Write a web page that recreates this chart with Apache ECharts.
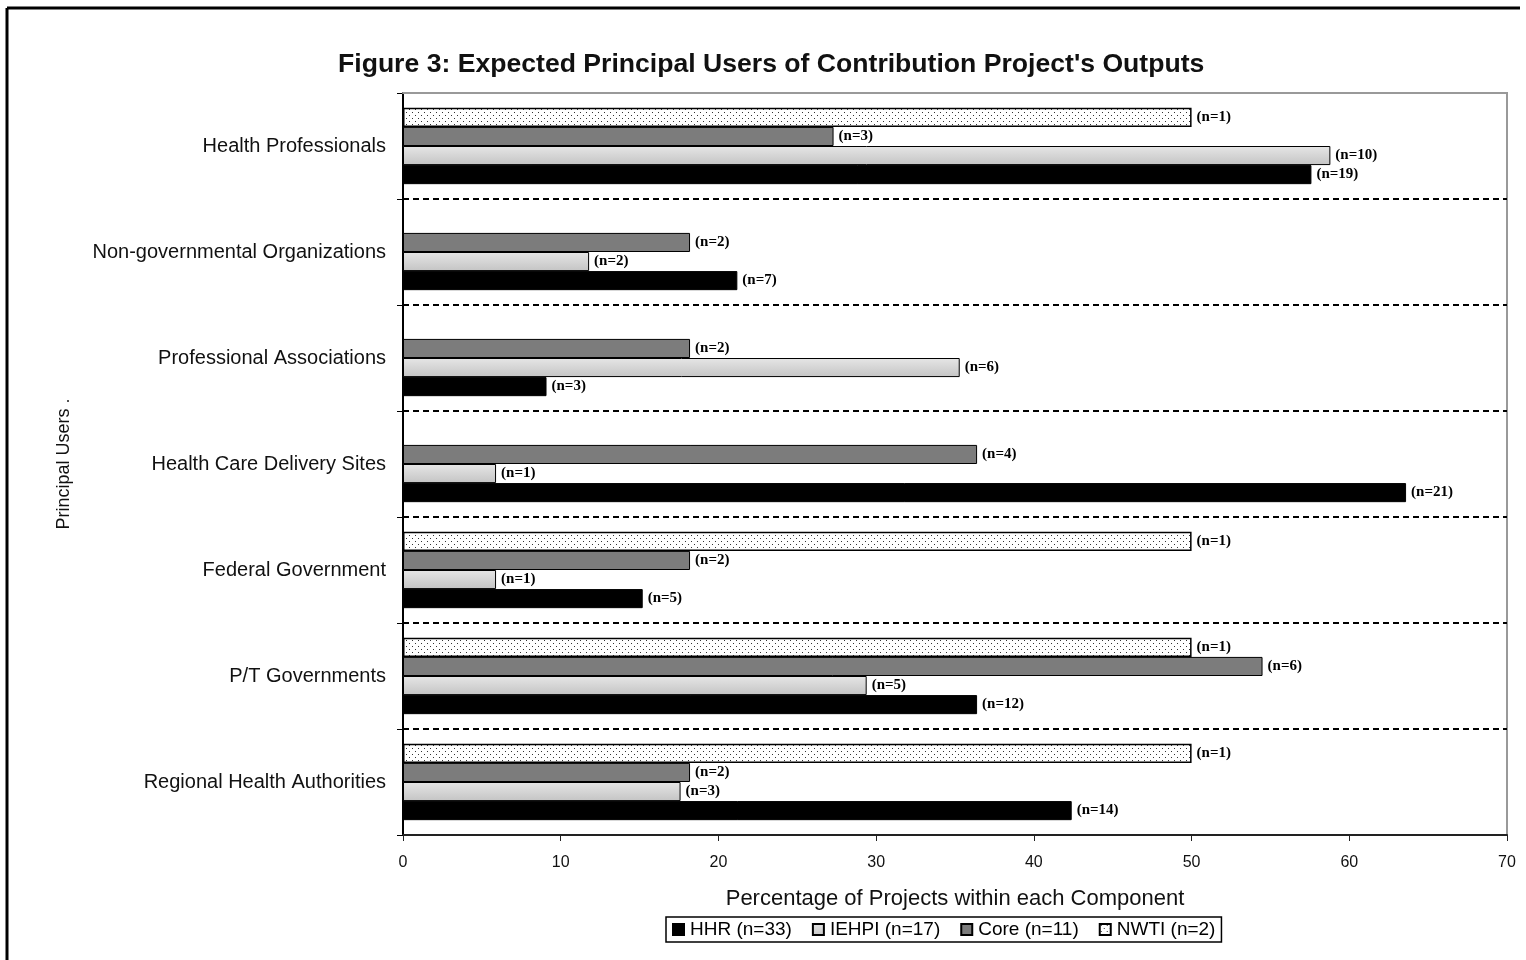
<!DOCTYPE html>
<html>
<head>
<meta charset="utf-8">
<script src="https://cdn.jsdelivr.net/npm/echarts@6/dist/echarts.min.js"></script>
<style>
  html, body { margin: 0; padding: 0; background: #fff; }
  #chart { width: 1526px; height: 960px; }
</style>
</head>
<body>
<div id="chart"></div>
<script>
// categories, top to bottom
const categories = [
  'Health Professionals',
  'Non-governmental Organizations',
  'Professional Associations',
  'Health Care Delivery Sites',
  'Federal Government',
  'P/T Governments',
  'Regional Health Authorities'
];

// percentage of projects per component
const hhrValues   = [57.6, 21.2, 9.1, 63.6, 15.2, 36.4, 42.4];
const iehpiValues = [58.8, 11.8, 35.3, 5.9, 5.9, 29.4, 17.6];
const coreValues  = [27.3, 18.2, 18.2, 36.4, 18.2, 54.5, 18.2];
const nwtiValues  = [50, null, null, null, 50, 50, 50];

// project counts shown next to each bar
const hhrCounts   = [19, 7, 3, 21, 5, 12, 14];
const iehpiCounts = [10, 2, 6, 1, 1, 5, 3];
const coreCounts  = [3, 2, 2, 4, 2, 6, 2];
const nwtiCounts  = [1, null, null, null, 1, 1, 1];

const xTicks = [0, 10, 20, 30, 40, 50, 60, 70];

// dotted fill for NWTI bars
function dotPattern() {
  const c = document.createElement('canvas');
  c.width = 6; c.height = 6;
  const ctx = c.getContext('2d');
  ctx.fillStyle = '#ffffff';
  ctx.fillRect(0, 0, 6, 6);
  ctx.fillStyle = '#333333';
  ctx.fillRect(1, 1, 1, 1);
  ctx.fillRect(4, 4, 1, 1);
  return c;
}

const labelStyle = (counts) => ({
  show: true,
  position: 'right',
  distance: 5,
  fontFamily: 'Liberation Serif',
  fontWeight: 'bold',
  fontSize: 15,
  color: '#000',
  formatter: p => counts[p.dataIndex] == null ? '' : '(n=' + counts[p.dataIndex] + ')'
});

const chart = echarts.init(document.getElementById('chart'));

const option = {
  animation: false,
  backgroundColor: '#fff',
  textStyle: { fontFamily: 'Liberation Sans' },
  title: {
    text: "Figure 3: Expected Principal Users of Contribution Project's Outputs",
    left: 333,
    top: 46,
    textStyle: { fontSize: 26.6, fontWeight: 'bold', color: '#111', fontFamily: 'Liberation Sans' }
  },
  grid: {
    left: 403,
    right: 19,
    top: 93,
    bottom: 125,
    show: true,
    borderColor: '#999',
    borderWidth: 2
  },
  legend: {
    data: ['HHR (n=33)', 'IEHPI (n=17)', 'Core (n=11)', 'NWTI (n=2)'],
    left: 666,
    top: 917,
    itemWidth: 11,
    itemHeight: 11,
    itemGap: 20,
    padding: [3, 6, 3, 6],
    icon: 'rect',
    borderColor: '#000',
    borderWidth: 1.5,
    textStyle: { fontSize: 19, color: '#000', padding: [0, 0, 0, 1] }
  },
  xAxis: [{
    type: 'value',
    min: 0,
    max: 70,
    interval: 10,
    name: 'Percentage of Projects within each Component',
    nameLocation: 'middle',
    nameGap: 53,
    nameTextStyle: { fontSize: 22, color: '#111' },
    axisLine: { show: true, lineStyle: { color: '#222', width: 2 } },
    axisTick: { show: true, length: 6, lineStyle: { color: '#222' } },
    axisLabel: {
      fontSize: 16, color: '#111', margin: 20,
      formatter: v => xTicks.includes(v) ? String(v) : ''
    },
    splitLine: { show: false }
  }, {
    type: 'value',
    position: 'top',
    min: 0,
    max: 70,
    z: 5,
    axisLine: { show: true, lineStyle: { color: '#999', width: 2 } },
    axisTick: { show: false },
    axisLabel: { show: false },
    splitLine: { show: false }
  }],
  yAxis: {
    type: 'category',
    data: categories,
    inverse: true,
    name: 'Principal Users .',
    nameLocation: 'middle',
    nameGap: 330,
    nameRotate: 90,
    nameTextStyle: { fontSize: 18, color: '#111' },
    axisLine: { show: true, lineStyle: { color: '#000', width: 2 } },
    axisTick: { show: true, length: 6, lineStyle: { color: '#000' } },
    axisLabel: { fontSize: 20, color: '#111', margin: 17 },
    splitLine: { show: true, lineStyle: { color: '#000', type: [6, 4], width: 2 } }
  },
  series: [
    {
      name: 'NWTI (n=2)',
      type: 'bar',
      data: nwtiValues,
      barGap: 0,
      barCategoryGap: '28%',
      itemStyle: { color: { image: dotPattern(), repeat: 'repeat' }, borderColor: '#000', borderWidth: 1.5 },
      label: labelStyle(nwtiCounts)
    },
    {
      name: 'Core (n=11)',
      type: 'bar',
      data: coreValues,
      barGap: 0,
      itemStyle: { color: '#7c7c7c', borderColor: '#000', borderWidth: 1 },
      label: labelStyle(coreCounts)
    },
    {
      name: 'IEHPI (n=17)',
      type: 'bar',
      data: iehpiValues,
      barGap: 0,
      itemStyle: {
        color: new echarts.graphic.LinearGradient(0, 0, 0, 1, [
          { offset: 0, color: '#e6e6e6' },
          { offset: 1, color: '#c4c4c4' }
        ]),
        borderColor: '#000', borderWidth: 1
      },
      label: labelStyle(iehpiCounts)
    },
    {
      name: 'HHR (n=33)',
      type: 'bar',
      data: hhrValues,
      barGap: 0,
      itemStyle: { color: '#000', borderColor: '#000', borderWidth: 1 },
      label: labelStyle(hhrCounts)
    }
  ],
  graphic: [
    { type: 'line', shape: { x1: 7, y1: 8, x2: 1520, y2: 8 }, style: { stroke: '#000', lineWidth: 3 } },
    { type: 'line', shape: { x1: 7, y1: 8, x2: 7, y2: 960 }, style: { stroke: '#000', lineWidth: 3 } }
  ]
};

chart.setOption(option);
</script>
</body>
</html>
